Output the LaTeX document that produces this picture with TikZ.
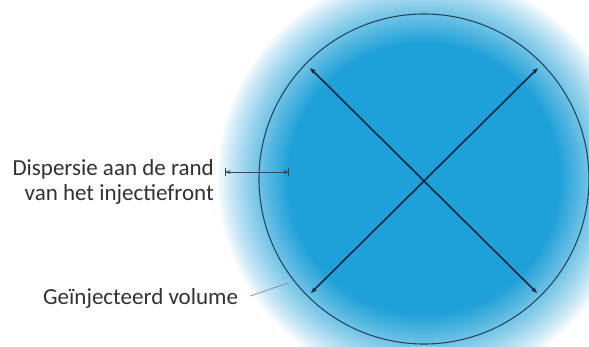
\documentclass[tikz,border=0pt]{standalone}
\usepackage{fontspec}
\setmainfont{Carlito}
\usetikzlibrary{arrows.meta}
\definecolor{blueC}{RGB}{30,160,216}
\definecolor{lineC}{RGB}{14,40,64}
\definecolor{ringC}{RGB}{36,72,92}
\definecolor{txtC}{RGB}{50,50,50}
\definecolor{leadC}{RGB}{130,150,165}
\tikzset{
  label text/.style={font=\fontsize{23}{25}\selectfont, text=txtC, inner sep=0pt},
  diag/.style={draw=lineC, line width=1.6pt, {Stealth[length=6pt,width=4.5pt]}-{Stealth[length=6pt,width=4.5pt]}},
  disp/.style={draw=lineC!85, line width=0.6pt, {Bar[width=8pt]Stealth[length=5pt,width=4pt]}-{Stealth[length=5pt,width=4pt]Bar[width=8pt]}},
  lead/.style={draw=leadC, line width=0.8pt}
}
\begin{document}
\begin{tikzpicture}[x=1pt,y=-1pt]
\useasboundingbox (0,0) rectangle (589,347);
\clip (0,0) rectangle (589,347);
\fill[white] (0,0) rectangle (589,347);
\coordinate (c) at (424,179);
% soft glow: concentric discs from white to full blue
\foreach \i in {0,...,36}{
  \pgfmathsetmacro{\rr}{208-2*\i}
  \pgfmathsetmacro{\pp}{100*(\i/36)^0.85}
  \fill[blueC!\pp!white] (c) circle[radius=\rr];
}
\draw[ringC, line width=1.1pt] (c) circle[radius=165];
\coordinate (tl) at (310,68);
\coordinate (tr) at (538,68);
\coordinate (bl) at (311,293);
\coordinate (br) at (537,293);
\draw[diag] (tl) -- (br);
\draw[diag] (bl) -- (tr);
\coordinate (dl) at (225,172);
\coordinate (dr) at (289,172);
\draw[disp] (dl) -- (dr);
\node[label text, align=right, anchor=east] (disptext) at (214,182) {Dispersie aan de rand\\van het injectiefront};
\node[label text, anchor=base west] (vol) at (43,305) {Geïnjecteerd volume};
\coordinate (ring) at (288,283);
\draw[lead] ([xshift=12pt,yshift=3pt]vol.east) -- (ring);
\end{tikzpicture}
\end{document}
